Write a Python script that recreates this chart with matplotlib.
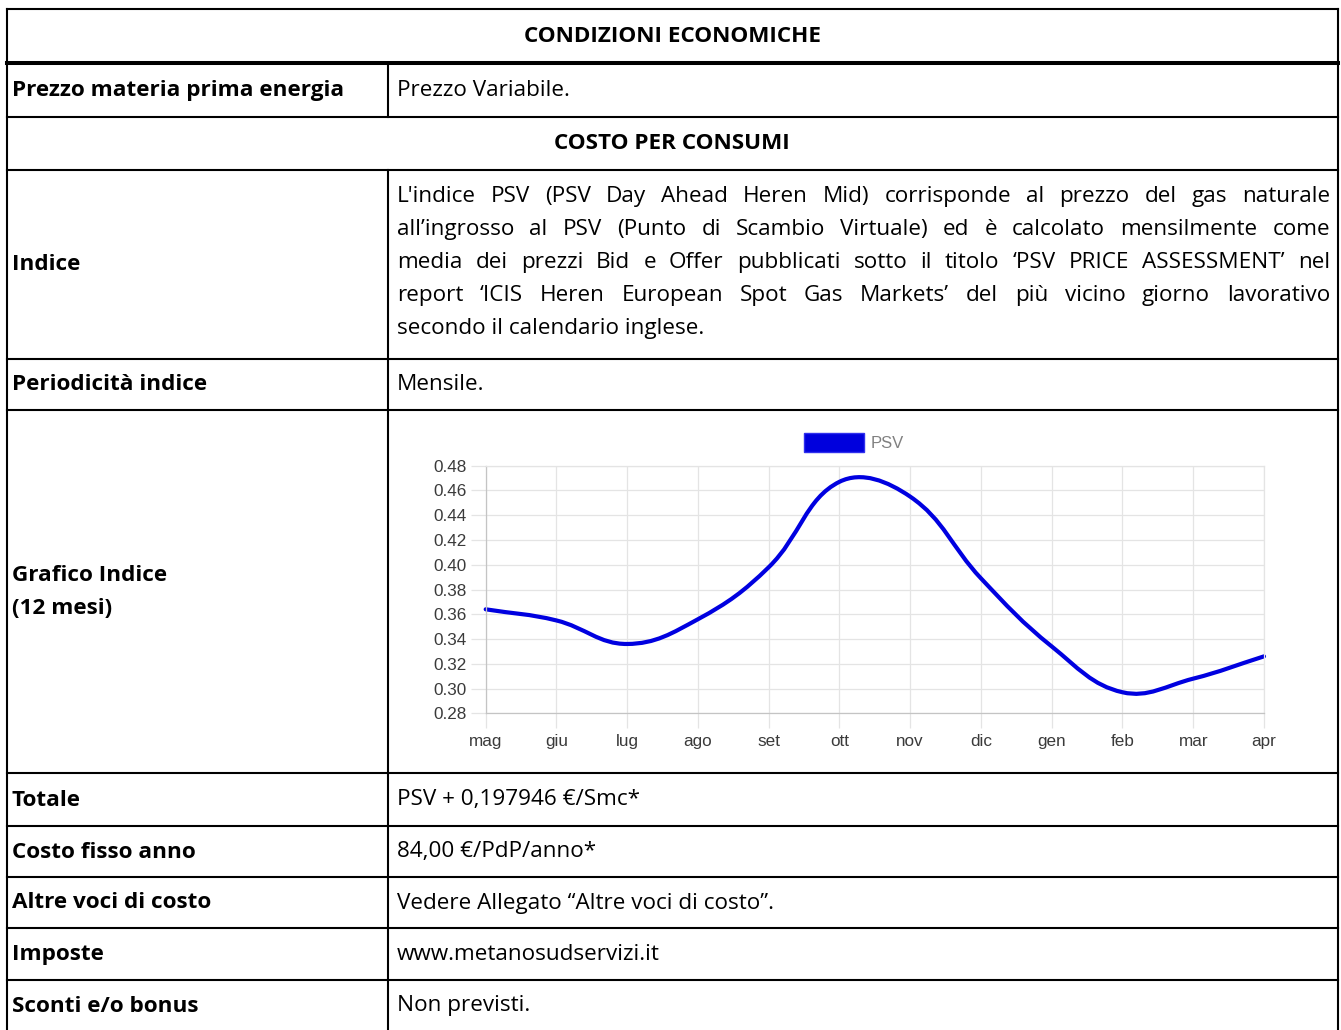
"""Rebuild the 'Condizioni economiche' sheet with the PSV index chart."""

import matplotlib
matplotlib.use("Agg")
import matplotlib.pyplot as plt
import numpy as np
from matplotlib.patches import Patch, PathPatch
from matplotlib.path import Path

MONTHS = ["mag", "giu", "lug", "ago", "set", "ott", "nov", "dic", "gen", "feb", "mar", "apr"]
PSV = [0.364, 0.355, 0.336, 0.356, 0.398, 0.467, 0.455, 0.389, 0.334, 0.297, 0.308, 0.326]
Y_TICKS = [0.28, 0.30, 0.32, 0.34, 0.36, 0.38, 0.40, 0.42, 0.44, 0.46, 0.48]

ROW_LABELS = ["CONDIZIONI ECONOMICHE", "Prezzo materia prima energia", "COSTO PER CONSUMI",
              "Indice", "Periodicità indice", "Grafico Indice\n(12 mesi)", "Totale",
              "Costo fisso anno", "Altre voci di costo", "Imposte", "Sconti e/o bonus"]
ROW_VALUES = [None, "Prezzo Variabile.", None, None, "Mensile.", None,
              "PSV + 0,197946 €/Smc*", "84,00 €/PdP/anno*",
              "Vedere Allegato “Altre voci di costo”.", "www.metanosudservizi.it", "Non previsti."]
INDICE_LINES = [
    "L'indice PSV (PSV Day Ahead Heren Mid) corrisponde al prezzo del gas naturale",
    "all’ingrosso al PSV (Punto di Scambio Virtuale) ed è calcolato mensilmente come",
    "media dei prezzi Bid e Offer pubblicati sotto il titolo ‘PSV PRICE ASSESSMENT’ nel",
    "report ‘ICIS Heren European Spot Gas Markets’ del più vicino giorno lavorativo",
    "secondo il calendario inglese.",
]

# layout in pixels of the 1341 x 1030 page
W, H = 1341, 1030
LEFT, DIV, RIGHT = 6.7, 387.7, 1337.7
ROW_EDGES = [9.3, 63.3, 116.7, 170, 359, 410, 773, 826, 877, 928, 980, 1031]
HEADER_ROWS = {0, 2}
TABLE_FONT = "Open Sans"
CHART_FONT = "Liberation Sans"
FS = 16.2


def justify(ax, line, x0, x1, y, renderer, **kw):
    words = line.split(" ")
    texts = [ax.text(0, y, w, va="baseline", **kw) for w in words]
    widths = [t.get_window_extent(renderer).width for t in texts]
    gap = (x1 - x0 - sum(widths)) / max(len(words) - 1, 1)
    x = x0
    for t, w in zip(texts, widths):
        t.set_x(x)
        x += w + gap


def smooth_curve(ax, xs, ys, tension=0.4):
    # Chart.js style bezier through the points, built in display space
    pts = ax.transData.transform(np.column_stack([xs, ys]))
    n = len(pts)
    prev_ctrl, next_ctrl = [], []
    for i in range(n):
        prev_pt, cur, next_pt = pts[max(i - 1, 0)], pts[i], pts[min(i + 1, n - 1)]
        d01 = np.hypot(*(cur - prev_pt))
        d12 = np.hypot(*(next_pt - cur))
        tot = d01 + d12
        s01 = d01 / tot if tot else 0
        s12 = d12 / tot if tot else 0
        prev_ctrl.append(cur - tension * s01 * (next_pt - prev_pt))
        next_ctrl.append(cur + tension * s12 * (next_pt - prev_pt))
    verts, codes = [pts[0]], [Path.MOVETO]
    for i in range(n - 1):
        verts += [next_ctrl[i], prev_ctrl[i + 1], pts[i + 1]]
        codes += [Path.CURVE4] * 3
    verts = ax.transData.inverted().transform(np.array(verts))
    return Path(verts, codes)


def main() -> None:
    fig = plt.figure(figsize=(W / 100, H / 100), dpi=100)
    tab = fig.add_axes([0, 0, 1, 1])
    tab.set_xlim(0, W)
    tab.set_ylim(H, 0)
    tab.axis("off")
    renderer = fig.canvas.get_renderer()

    # grid of the table
    line_kw = dict(color="black", solid_capstyle="projecting")
    for i, y in enumerate(ROW_EDGES[:-1]):
        tab.plot([LEFT, RIGHT], [y, y], lw=2.9 if i == 1 else 1.5, **line_kw)
    tab.plot([LEFT, LEFT], [ROW_EDGES[0], H + 5], lw=1.5, **line_kw)
    tab.plot([RIGHT, RIGHT], [ROW_EDGES[0], H + 5], lw=1.5, **line_kw)
    tab.plot([DIV, DIV], [ROW_EDGES[1], ROW_EDGES[2]], lw=1.5, **line_kw)
    tab.plot([DIV, DIV], [ROW_EDGES[3], H + 5], lw=1.5, **line_kw)

    for i, (label, value) in enumerate(zip(ROW_LABELS, ROW_VALUES)):
        top, bottom = ROW_EDGES[i], ROW_EDGES[i + 1]
        mid = (top + bottom) / 2
        if i in HEADER_ROWS:
            tab.text((LEFT + RIGHT) / 2, mid + 6, label, ha="center", va="baseline",
                     fontsize=FS, fontweight="bold", family=TABLE_FONT)
            continue
        lines = label.split("\n")
        base = mid + 6 - (len(lines) - 1) * 33 / 2
        for k, part in enumerate(lines):
            tab.text(12, base + k * 33, part, va="baseline", fontsize=FS,
                     fontweight="bold", family=TABLE_FONT)
        if value:
            tab.text(397, mid + 6, value, va="baseline", fontsize=FS, family=TABLE_FONT)

    # justified paragraph of the "Indice" row
    for k, line in enumerate(INDICE_LINES):
        y = 201.7 + k * 33.1
        if k < len(INDICE_LINES) - 1:
            justify(tab, line, 397, 1330, y, renderer, fontsize=FS, family=TABLE_FONT)
        else:
            tab.text(397, y, line, va="baseline", fontsize=FS, family=TABLE_FONT)

    # PSV chart inside the "Grafico Indice" cell
    x0, x1, y_top, y_bot = 485.7, 1264, 465.7, 713.3
    ax = fig.add_axes([x0 / W, 1 - y_bot / H, (x1 - x0) / W, (y_bot - y_top) / H])
    ax.set_xlim(0, len(MONTHS) - 1)
    ax.set_ylim(Y_TICKS[0], Y_TICKS[-1])
    ax.set_xticks(range(len(MONTHS)), MONTHS)
    ax.set_yticks(Y_TICKS, [f"{v:.2f}" for v in Y_TICKS])
    ax.grid(color="#e4e4e4", lw=0.9)
    ax.set_axisbelow(True)
    for side, spine in ax.spines.items():
        spine.set_color("#c4c4c4" if side in ("left", "bottom") else "#e4e4e4")
        spine.set_linewidth(0.9)
    ax.tick_params(length=11, width=0.9, color="#e4e4e4", labelsize=12.3, labelcolor="#3a3a3a")
    ax.tick_params(axis="x", pad=4)
    ax.tick_params(axis="y", pad=3)
    for lab in ax.get_xticklabels() + ax.get_yticklabels():
        lab.set_family(CHART_FONT)

    path = smooth_curve(ax, range(len(MONTHS)), PSV)
    ax.add_patch(PathPatch(path, facecolor="none", edgecolor="#0000e0", lw=3.0,
                           capstyle="round", joinstyle="round", clip_on=False))

    fig.legend(handles=[Patch(facecolor="#0000dd", edgecolor="#3030ee", label="PSV")],
               loc="center", bbox_to_anchor=(854 / W, 1 - 442.5 / H), frameon=False,
               handlelength=3.6, handleheight=1.35, handletextpad=0.45,
               labelcolor="#808080", prop={"family": CHART_FONT, "size": 12})

    fig.savefig("out.png", dpi=100)


if __name__ == "__main__":
    main()
